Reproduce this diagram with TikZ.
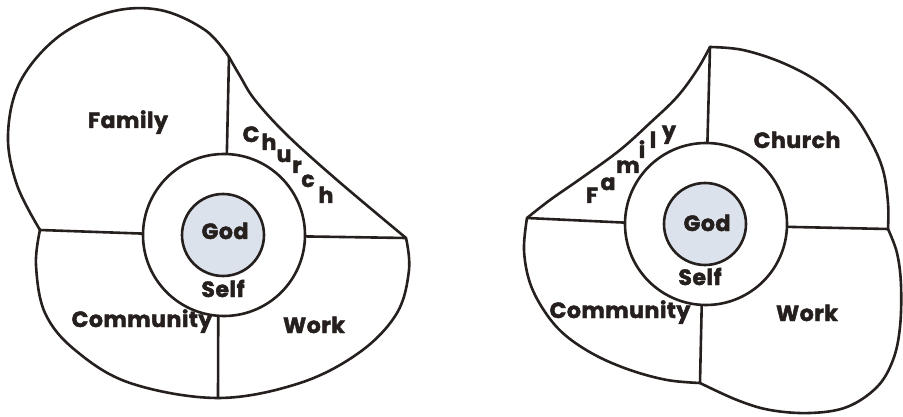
\documentclass[tikz,border=0pt]{standalone}
\usepackage{fontspec}
\setmainfont{Poppins}[BoldFeatures={FakeBold=2}, LetterSpace=2.5]
\usepackage{tikz}
\usetikzlibrary{positioning}
\definecolor{ink}{HTML}{25201E}
\definecolor{godfill}{HTML}{DCE2EB}

\begin{document}
\begin{tikzpicture}[x=1pt, y=-1pt,
  every node/.style={font=\fontsize{22}{26}\selectfont\bfseries, text=ink},
  rim/.style={draw=ink, line width=2.6pt, line join=round, line cap=round},
  selfring/.style={circle, draw=ink, line width=2.6pt, fill=white,
                   minimum size=162pt, inner sep=0pt},
  godcore/.style={circle, draw=ink, line width=2.6pt, fill=godfill,
                  minimum size=82pt, inner sep=0pt},
  lbl/.style={anchor=base, inner sep=0pt},
  ltr/.style={anchor=base, inner sep=0pt}
]
  \useasboundingbox (0,0) rectangle (903,417);

  % left diagram
  \coordinate (topL) at (229,57);
  \coordinate (westL) at (40,230);
  \coordinate (eastL) at (406,238);
  \coordinate (southL) at (218,398);

  \draw[rim] plot[smooth, tension=0.6] coordinates {(40,230) (17,185) (8,135) (20,82)
    (58,37) (110,12) (160,10) (205,30) (229,57)};
  \draw[rim] plot[smooth, tension=0.6] coordinates {(229,57) (240,76) (255,100) (287,135)
    (337,180) (406,238)};
  \draw[rim] plot[smooth, tension=0.6] coordinates {(40,230) (36,265) (45,313) (75,350)
    (130,383) (218,398) (300,383) (360,352) (397,313) (409,270) (406,238)};

  \node[selfring] (selfL) at (224,235) {};
  \node[godcore] (godL) at (223,235) {};
  \draw[rim] (topL) -- (selfL.88);
  \draw[rim] (westL) -- (selfL.179);
  \draw[rim] (eastL) -- (selfL.-1);
  \draw[rim] (southL) -- (selfL.266);

  \node[lbl] (famL) at (128,128) {Family};
  \node[lbl] (comL) at (142,327) {Community};
  \node[lbl] (wrkL) at (314,333) {Work};
  \node[lbl] (slfL) at (223,297) {Self};
  \node[lbl] (gdL) at (225,239) {God};
  \node[ltr] (chL1) at (251,142) {C};
  \node[ltr] (chL2) at (269,150) {h};
  \node[ltr] (chL3) at (284,162) {u};
  \node[ltr] (chL4) at (297,173) {r};
  \node[ltr] (chL5) at (308,187) {c};
  \node[ltr] (chL6) at (326,203) {h};

  % right diagram
  \coordinate (topR) at (710,47);
  \coordinate (westR) at (527,218);
  \coordinate (eastR) at (888,229);
  \coordinate (southR) at (700,383);

  \draw[rim] plot[smooth, tension=0.6] coordinates {(710,47) (697,70) (677,97) (650,123)
    (620,150) (583,177) (550,200) (527,218)};
  \draw[rim] plot[smooth, tension=0.6] coordinates {(710,47) (743,50) (783,63) (820,83)
    (850,110) (870,140) (883,170) (888,203) (888,229)};
  \draw[rim] plot[smooth, tension=0.6] coordinates {(527,218) (524,250) (530,283) (545,312)
    (565,335) (595,355) (630,370) (667,380) (700,383)};
  \draw[rim] plot[smooth, tension=0.6] coordinates {(888,229) (897,253) (901,285) (900,327)
    (893,360) (877,387) (847,407) (810,413) (770,410) (737,400) (700,383)};

  \node[selfring] (selfR) at (706,224) {};
  \node[godcore] (godR) at (705,224) {};
  \draw[rim] (topR) -- (selfR.89);
  \draw[rim] (westR) -- (selfR.179);
  \draw[rim] (eastR) -- (selfR.-2);
  \draw[rim] (southR) -- (selfR.267);

  \node[lbl] (chuR) at (797,148) {Church};
  \node[lbl] (comR) at (620,318) {Community};
  \node[lbl] (wrkR) at (807,321) {Work};
  \node[lbl] (slfR) at (700,285) {Self};
  \node[lbl] (gdR) at (707,231) {God};
  \node[ltr] (fmR1) at (592,203) {F};
  \node[ltr] (fmR2) at (608,190) {a};
  \node[ltr] (fmR3) at (628,173) {m};
  \node[ltr] (fmR4) at (642,158) {i};
  \node[ltr] (fmR5) at (653,148) {l};
  \node[ltr] (fmR6) at (669,138) {y};
\end{tikzpicture}
\end{document}
